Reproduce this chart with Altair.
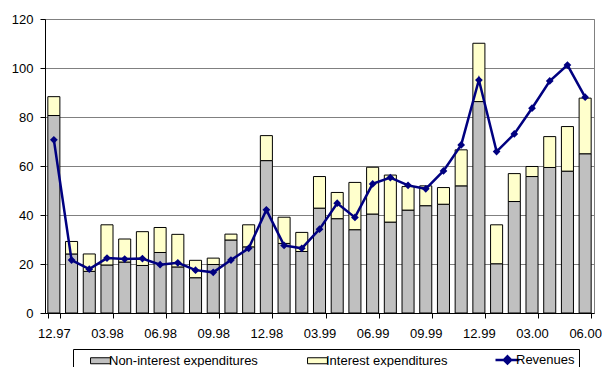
import altair as alt
import pandas as pd

# Monthly periods, 12.97 .. 06.00
months = [
    "12.97", "01.98", "02.98", "03.98", "04.98", "05.98", "06.98", "07.98",
    "08.98", "09.98", "10.98", "11.98", "12.98", "01.99", "02.99", "03.99",
    "04.99", "05.99", "06.99", "07.99", "08.99", "09.99", "10.99", "11.99",
    "12.99", "01.00", "02.00", "03.00", "04.00", "05.00", "06.00",
]
non_interest = [
    80.6, 24.1, 17.0, 19.6, 20.8, 19.4, 24.7, 18.8, 14.4, 19.8, 29.8, 27.0,
    62.2, 28.4, 25.1, 42.8, 38.5, 34.0, 40.4, 37.1, 42.0, 43.8, 44.4, 51.9,
    86.3, 20.1, 45.5, 55.7, 59.4, 57.9, 65.0,
]
interest = [
    7.7, 5.1, 7.1, 16.4, 9.4, 13.8, 10.2, 13.3, 7.1, 2.6, 2.4, 9.0,
    10.2, 10.7, 7.8, 12.9, 10.7, 19.3, 19.1, 19.2, 9.6, 8.1, 6.8, 14.7,
    23.8, 15.9, 11.4, 4.1, 12.6, 18.2, 22.7,
]
revenues = [
    70.7, 21.6, 17.9, 22.4, 22.0, 22.2, 19.7, 20.5, 17.5, 16.6, 21.6, 26.4,
    42.1, 27.6, 26.4, 34.2, 44.8, 39.0, 52.7, 55.3, 52.1, 50.7, 58.0, 68.6,
    95.1, 65.9, 73.1, 83.6, 94.7, 101.2, 88.1,
]
tick_months = months[::3]
y_ticks = [0, 20, 40, 60, 80, 100, 120]

series = ["Non-interest expenditures", "Interest expenditures", "Revenues"]
colors = ["#C0C0C0", "#FFFFCC", "#000080"]

FONT = "Liberation Sans"

bar_rows = []
for m, a, b in zip(months, non_interest, interest):
    bar_rows.append({"month": m, "series": series[0], "value": a, "k": 0})
    bar_rows.append({"month": m, "series": series[1], "value": b, "k": 1})
bar_df = pd.DataFrame(bar_rows)
line_df = pd.DataFrame({"month": months, "value": revenues})

x_enc = alt.X(
    "month:N",
    sort=months,
    scale=alt.Scale(paddingInner=0.32, paddingOuter=0.16),
    axis=alt.Axis(
        values=tick_months, tickBand="extent", labelAngle=0, title=None,
        tickSize=5, labelPadding=9, labelFontSize=13,
    ),
)
y_scale = alt.Scale(domain=[0, 120], nice=False)
y_axis = alt.Axis(
    values=y_ticks, grid=True, gridColor="#808080", gridWidth=1,
    title=None, tickSize=5, labelPadding=7, labelFontSize=13,
)

# legend glyphs: a flat box for the bar series, a line with a diamond for revenues
rev_symbol = "M-1,0H1M0,-0.3L0.3,0L0,0.3L-0.3,0Z"
box_symbol = "M-0.83,-0.25H0.83V0.25H-0.83Z"

legend = alt.Legend(
    title=None,
    orient="none",
    legendX=28,
    legendY=330,
    direction="horizontal",
    strokeColor="black",
    fillColor="white",
    padding=4,
    columnPadding=36,
    labelFont=FONT,
    labelFontSize=13,
    labelColor="black",
    symbolSize=576,
    symbolOffset=17,
    labelOffset=2,
    symbolType={"expr": f"datum.value == 'Revenues' ? '{rev_symbol}' : '{box_symbol}'"},
    symbolStrokeColor={"expr": "datum.value == 'Revenues' ? '#000080' : 'black'"},
    symbolStrokeWidth={"expr": "datum.value == 'Revenues' ? 2.5 : 1"},
)

bars = alt.Chart(bar_df).mark_bar(stroke="black", strokeWidth=1).encode(
    x=x_enc,
    y=alt.Y("value:Q", stack="zero", scale=y_scale, axis=y_axis),
    color=alt.Color("series:N", sort=series,
                    scale=alt.Scale(domain=series, range=colors), legend=legend),
    order=alt.Order("k:Q"),
)

line = alt.Chart(line_df).mark_line(color="#000080", strokeWidth=2.5).encode(
    x=alt.X("month:N", sort=months),
    y=alt.Y("value:Q", scale=y_scale),
)
points = alt.Chart(line_df).mark_point(
    shape="diamond", filled=True, size=60, color="#000080", opacity=1
).encode(
    x=alt.X("month:N", sort=months),
    y=alt.Y("value:Q", scale=y_scale),
)

chart = alt.layer(bars, line, points).properties(
    width=549,
    height=294,
    autosize=alt.AutoSizeParams(type="none"),
    padding={"left": 45, "top": 19, "right": 8, "bottom": 54},
).configure_view(
    stroke="#808080", strokeWidth=1
).configure_axis(
    labelFont=FONT, labelColor="black", domainColor="black", tickColor="black",
    domainWidth=1, tickWidth=1,
)

chart.save("out.html", embed_options={"renderer": "svg", "actions": False})
